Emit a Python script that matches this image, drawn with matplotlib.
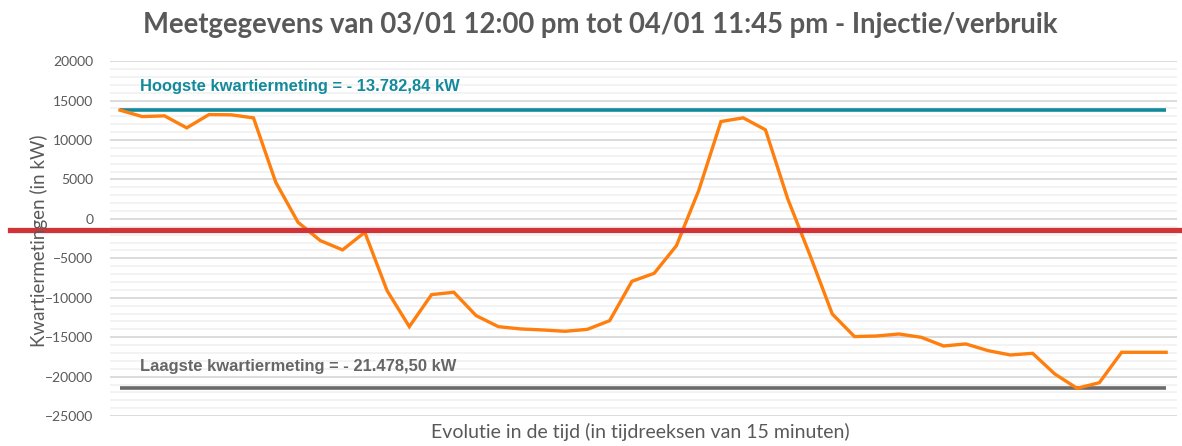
# Kwartiermetingen injectie/verbruik - 03/01 12:00 tot 04/01 23:45
import numpy as np
import matplotlib.pyplot as plt
from matplotlib.ticker import MultipleLocator

# ------------------------------------------
# DATA
# ------------------------------------------

# 48 kwartiermetingen (kW)
metingen = [
    13782.84, 12970, 13060, 11540, 13225, 13190, 12800, 4640,
    -430, -2750, -3930, -1700, -9090, -13660, -9600, -9300,
    -12260, -13660, -13950, -14080, -14250, -14000, -12900, -7910,
    -6900, -3390, 3590, 12340, 12810, 11290, 2540, -4600,
    -12050, -14920, -14840, -14590, -15010, -16110, -15850, -16700,
    -17250, -17040, -19660, -21478.50, -20760, -16910, -16910, -16910
]

hoogste = 13782.84
laagste = -21478.50
rode_lijn = -1350

hoogste_label = "Hoogste kwartiermeting = - 13.782,84 kW"
laagste_label = "Laagste kwartiermeting = - 21.478,50 kW"
titel = "Meetgegevens van 03/01 12:00 pm tot 04/01 11:45 pm - Injectie/verbruik"
x_label = "Evolutie in de tijd (in tijdreeksen van 15 minuten)"
y_label = "Kwartiermetingen (in kW)"

x = np.arange(len(metingen))

# ------------------------------------------
# PLOT
# ------------------------------------------

fig = plt.figure(figsize=(11.82, 4.46), dpi=100)
ax = fig.add_axes([0.093, 0.067, 0.903, 0.796])

grey_txt = '#595959'

ax.set_ylim(-25000, 20000)
ax.set_xlim(-0.45, 47.5)
ax.yaxis.set_major_locator(MultipleLocator(5000))
ax.yaxis.set_minor_locator(MultipleLocator(1000))
ax.grid(True, which='major', axis='y', color='#d9d9d9', linewidth=1.3)
ax.grid(True, which='minor', axis='y', color='#f0f0f0', linewidth=1.1)
ax.set_axisbelow(True)

for s in ax.spines.values():
    s.set_visible(False)

ax.set_xticks([])
ax.tick_params(axis='y', which='both', length=0, pad=12,
               labelsize=10, labelcolor=grey_txt)
for lab in ax.get_yticklabels():
    lab.set_fontfamily('Lato')

# lijnen hoogste / laagste
ax.plot([x[0], x[-1]], [hoogste, hoogste], color='#138a9c', linewidth=2.6,
        solid_capstyle='butt')
ax.plot([x[0], x[-1]], [laagste, laagste], color='#6b6b6b', linewidth=2.6,
        solid_capstyle='butt')

# metingen
ax.plot(x, metingen, color='#ff7f0e', linewidth=2.4, solid_joinstyle='miter')

# rode lijn over de hele breedte
ax.axhline(rode_lijn, xmin=-0.094, xmax=1.01, color='#d13438',
           linewidth=3.8, clip_on=False)

# annotaties
ax.text(0.9, 16800, hoogste_label, color='#138a9c', fontsize=11.9,
        fontweight='bold', family='Liberation Sans', va='center')
ax.text(0.9, -18700, laagste_label, color='#666666', fontsize=11.9,
        fontweight='bold', family='Liberation Sans', va='center')

fig.text(0.508, 0.944, titel, ha='center', va='center', fontsize=19.8,
         fontweight='bold', color=grey_txt, family='Lato')
fig.text(0.542, 0.031, x_label, ha='center', va='center', fontsize=14,
         color=grey_txt, family='Lato')
fig.text(0.033, 0.46, y_label, ha='center', va='center', fontsize=13.5,
         color=grey_txt, family='Lato', rotation=90)

plt.savefig('out.png', dpi=100)
